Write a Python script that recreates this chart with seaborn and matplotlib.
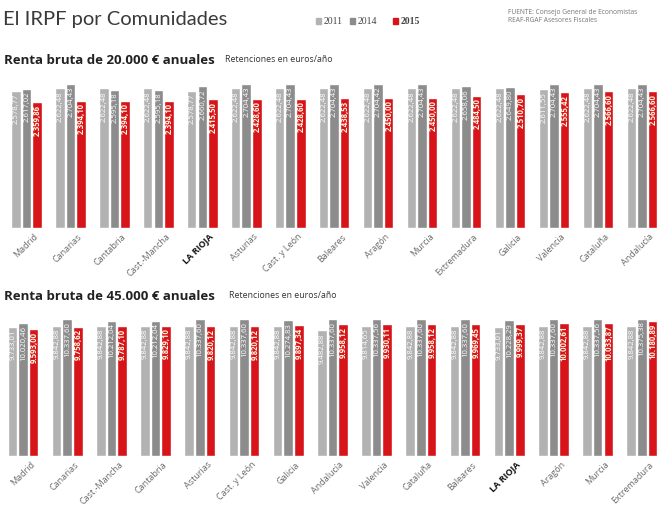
import matplotlib
matplotlib.use("Agg")
import matplotlib.pyplot as plt
import matplotlib.transforms as mtransforms
import numpy as np
import pandas as pd
import seaborn as sns

# data
years = ["2011", "2014", "2015"]

regions_20k = ["Madrid", "Canarias", "Cantabria", "Cast.-Mancha", "LA RIOJA", "Asturias",
               "Cast. y León", "Baleares", "Aragón", "Murcia", "Extremadura", "Galicia",
               "Valencia", "Cataluña", "Andalucía"]
ret_20k_2011 = [2578.77, 2622.48, 2622.48, 2622.48, 2578.77, 2622.48, 2622.48, 2622.48,
                2622.48, 2622.48, 2622.48, 2622.48, 2611.55, 2622.48, 2622.48]
ret_20k_2014 = [2617.02, 2704.43, 2595.18, 2595.18, 2660.72, 2704.43, 2704.43, 2704.43,
                2704.42, 2704.43, 2658.06, 2649.80, 2704.43, 2704.43, 2704.43]
ret_20k_2015 = [2359.86, 2394.10, 2394.10, 2394.10, 2415.50, 2428.60, 2428.60, 2438.53,
                2450.00, 2450.00, 2484.50, 2510.70, 2555.42, 2566.60, 2566.60]

regions_45k = ["Madrid", "Canarias", "Cast.-Mancha", "Cantabria", "Asturias", "Cast. y León",
               "Galicia", "Andalucía", "Valencia", "Cataluña", "Baleares", "LA RIOJA",
               "Aragón", "Murcia", "Extremadura"]
ret_45k_2011 = [9733.01, 9842.88, 9842.88, 9842.88, 9842.88, 9842.88, 9842.88, 9482.88,
                9814.65, 9842.88, 9842.88, 9733.01, 9842.88, 9842.88, 9842.88]
ret_45k_2014 = [10020.46, 10337.60, 10212.04, 10212.04, 10337.60, 10337.60, 10274.83, 10337.60,
                10337.56, 10337.60, 10337.60, 10228.29, 10337.60, 10337.56, 10375.38]
ret_45k_2015 = [9593.00, 9758.62, 9787.10, 9829.10, 9820.12, 9820.12, 9897.34, 9958.12,
                9930.11, 9958.12, 9969.45, 9999.37, 10002.61, 10033.87, 10180.89]

colors = ["#b2b2b2", "#8c8c8c", "#d7141a"]


def fmt_es(v):
    s = f"{v:,.2f}"
    return s.replace(",", "X").replace(".", ",").replace("X", ".")


def long_table(regions, a, b, c):
    rows = []
    for vals, yr in zip([a, b, c], years):
        for r, v in zip(regions, vals):
            rows.append({"region": r, "year": yr, "value": v})
    return pd.DataFrame(rows)


def draw_panel(fig, rect, regions, a, b, c, ymax, xlim, label_dx):
    ax = fig.add_axes(rect)
    df = long_table(regions, a, b, c)
    sns.barplot(data=df, x="region", y="value", hue="year", order=regions,
                hue_order=years, palette=colors, width=0.72, gap=0.1,
                legend=False, ax=ax, saturation=1)
    for cont, col in zip(ax.containers, range(3)):
        for bar in cont:
            h = bar.get_height()
            ax.annotate(fmt_es(h), (bar.get_x() + bar.get_width() / 2, h),
                        xytext=(0.3, -2), textcoords="offset points",
                        rotation=90, ha="center", va="top", fontsize=5.6,
                        color="#fff6e0" if col == 2 else "white",
                        fontweight="bold" if col == 2 else "normal")
    ax.set_ylim(0, ymax)
    ax.set_xlim(*xlim)
    ax.set_xlabel("")
    ax.set_ylabel("")
    ax.set_yticks([])
    ax.tick_params(axis="x", length=0, pad=3)
    offset = mtransforms.ScaledTranslation(label_dx / 100, 0, fig.dpi_scale_trans)
    ax.set_xticks(range(len(regions)))
    ax.set_xticklabels(regions, rotation=45, ha="right", rotation_mode="anchor",
                       fontsize=6.5)
    for lab in ax.get_xticklabels():
        lab.set_transform(lab.get_transform() + offset)
        if lab.get_text() == "LA RIOJA":
            lab.set_color("#111111")
            lab.set_fontweight("bold")
        else:
            lab.set_color("#6a6a6a")
    sns.despine(ax=ax, left=True, bottom=True)
    return ax


sns.set_style("white")
plt.rcParams["font.family"] = ["Open Sans", "DejaVu Sans"]

W, H = 660, 515
fig = plt.figure(figsize=(6.6, 5.15), dpi=100)

draw_panel(fig, [0, (H - 228) / H, 1, 153 / H], regions_20k,
           ret_20k_2011, ret_20k_2014, ret_20k_2015, 2873, (-0.60, 14.41), 7)
draw_panel(fig, [0, (H - 456) / H, 1, 151 / H], regions_45k,
           ret_45k_2011, ret_45k_2014, ret_45k_2015, 11396, (-0.52, 14.41), 7)

# titles and headers
fig.text(3 / W, 1 - 20 / H, "El IRPF por Comunidades", fontsize=14.5,
         fontweight="normal", color="#3a3a3a", va="center", family=["Lato", "DejaVu Sans"])

lx = [316, 350, 393]
for x, yr, col in zip(lx, years, colors):
    fig.patches.append(plt.Rectangle((x / W, 1 - 24 / H), 5 / W, 6 / H,
                                     transform=fig.transFigure, color=col))
    fig.text((x + 8) / W, 1 - 21 / H, yr, fontsize=7, color="#444444",
             va="center", family=["Liberation Serif", "DejaVu Serif"],
             fontweight="bold" if yr == "2015" else "normal")

fig.text(508 / W, 1 - 13 / H, "FUENTE: Consejo General de Economistas",
         fontsize=4.8, color="#777777", va="center")
fig.text(508 / W, 1 - 21 / H, "REAF-RGAF Asesores Fiscales",
         fontsize=4.8, color="#777777", va="center")

fig.text(4 / W, 1 - 60 / H, "Renta bruta de 20.000 € anuales", fontsize=9.5,
         fontweight="bold", color="#222222", va="center")
fig.text(225 / W, 1 - 60 / H, "Retenciones en euros/año", fontsize=6.3,
         color="#333333", va="center")
fig.text(4 / W, 1 - 296 / H, "Renta bruta de 45.000 € anuales", fontsize=9.5,
         fontweight="bold", color="#222222", va="center")
fig.text(229 / W, 1 - 296 / H, "Retenciones en euros/año", fontsize=6.3,
         color="#333333", va="center")

fig.savefig("out.png", dpi=100, facecolor="white")
